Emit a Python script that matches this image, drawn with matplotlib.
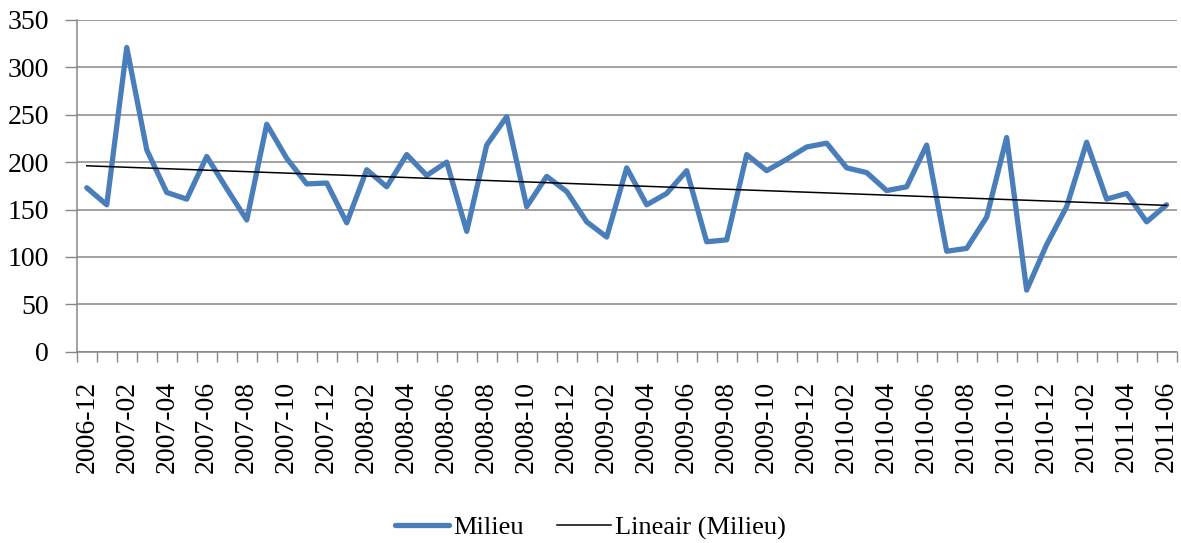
import matplotlib.pyplot as plt
import numpy as np

plt.rcParams["font.family"] = ["Liberation Serif", "DejaVu Serif"]

# Monthly values, 2006-12 .. 2011-06
months = ["%d-%02d" % (2006 + (11 + i) // 12, (11 + i) % 12 + 1) for i in range(55)]
milieu = [173, 155, 321, 213, 168, 161, 206, 172, 139, 240,
          204, 177, 178, 136, 192, 174, 208, 186, 200, 127,
          218, 248, 153, 185, 169, 137, 121, 194, 155, 167,
          191, 116, 118, 208, 191, 203, 216, 220, 194, 189,
          170, 174, 218, 106, 109, 142, 226, 65, 113, 153,
          221, 161, 167, 137, 155]
yticks = [0, 50, 100, 150, 200, 250, 300, 350]

blue = "#4A7EBB"
grid_col = "#878787"

fig = plt.figure(figsize=(11.81, 5.43), dpi=100)
ax = fig.add_axes([0.065, 0.3523, 0.9313, 0.6109])

x = np.arange(len(milieu))
ax.plot(x, milieu, color=blue, lw=3.8, solid_joinstyle="round",
        solid_capstyle="round", label="Milieu", zorder=3)

# linear trendline
slope, icpt = np.polyfit(x, milieu, 1)
ax.plot(x, slope * x + icpt, color="black", lw=1.1, label="Lineair (Milieu)", zorder=4)

ax.set_xlim(-0.5, len(milieu) - 0.5)
ax.set_ylim(0, 350)
ax.set_yticks(yticks)
ax.yaxis.grid(True, color=grid_col, lw=1.1)
ax.set_axisbelow(True)

# tick marks on category boundaries, labels on every second month
ax.set_xticks(np.arange(-0.5, len(milieu), 1.0))
ax.set_xticklabels([])
ax.set_xticks(x[::2], months[::2], minor=True, rotation=90)
ax.tick_params(axis="x", which="major", length=7, width=1, color=grid_col)
ax.tick_params(axis="x", which="minor", length=0, pad=21, labelsize=20)
ax.tick_params(axis="y", length=9, width=1, color=grid_col, pad=11, labelsize=20)

for s in ["top", "right"]:
    ax.spines[s].set_visible(False)
for s in ["left", "bottom"]:
    ax.spines[s].set_color(grid_col)
    ax.spines[s].set_linewidth(1.1)

fig.legend(loc="center", bbox_to_anchor=(0.5, 0.028), ncol=2, frameon=False,
           fontsize=19, handlelength=2.05, handletextpad=0.15, columnspacing=1.25,
           borderaxespad=0)

fig.savefig("out.png", dpi=100)
